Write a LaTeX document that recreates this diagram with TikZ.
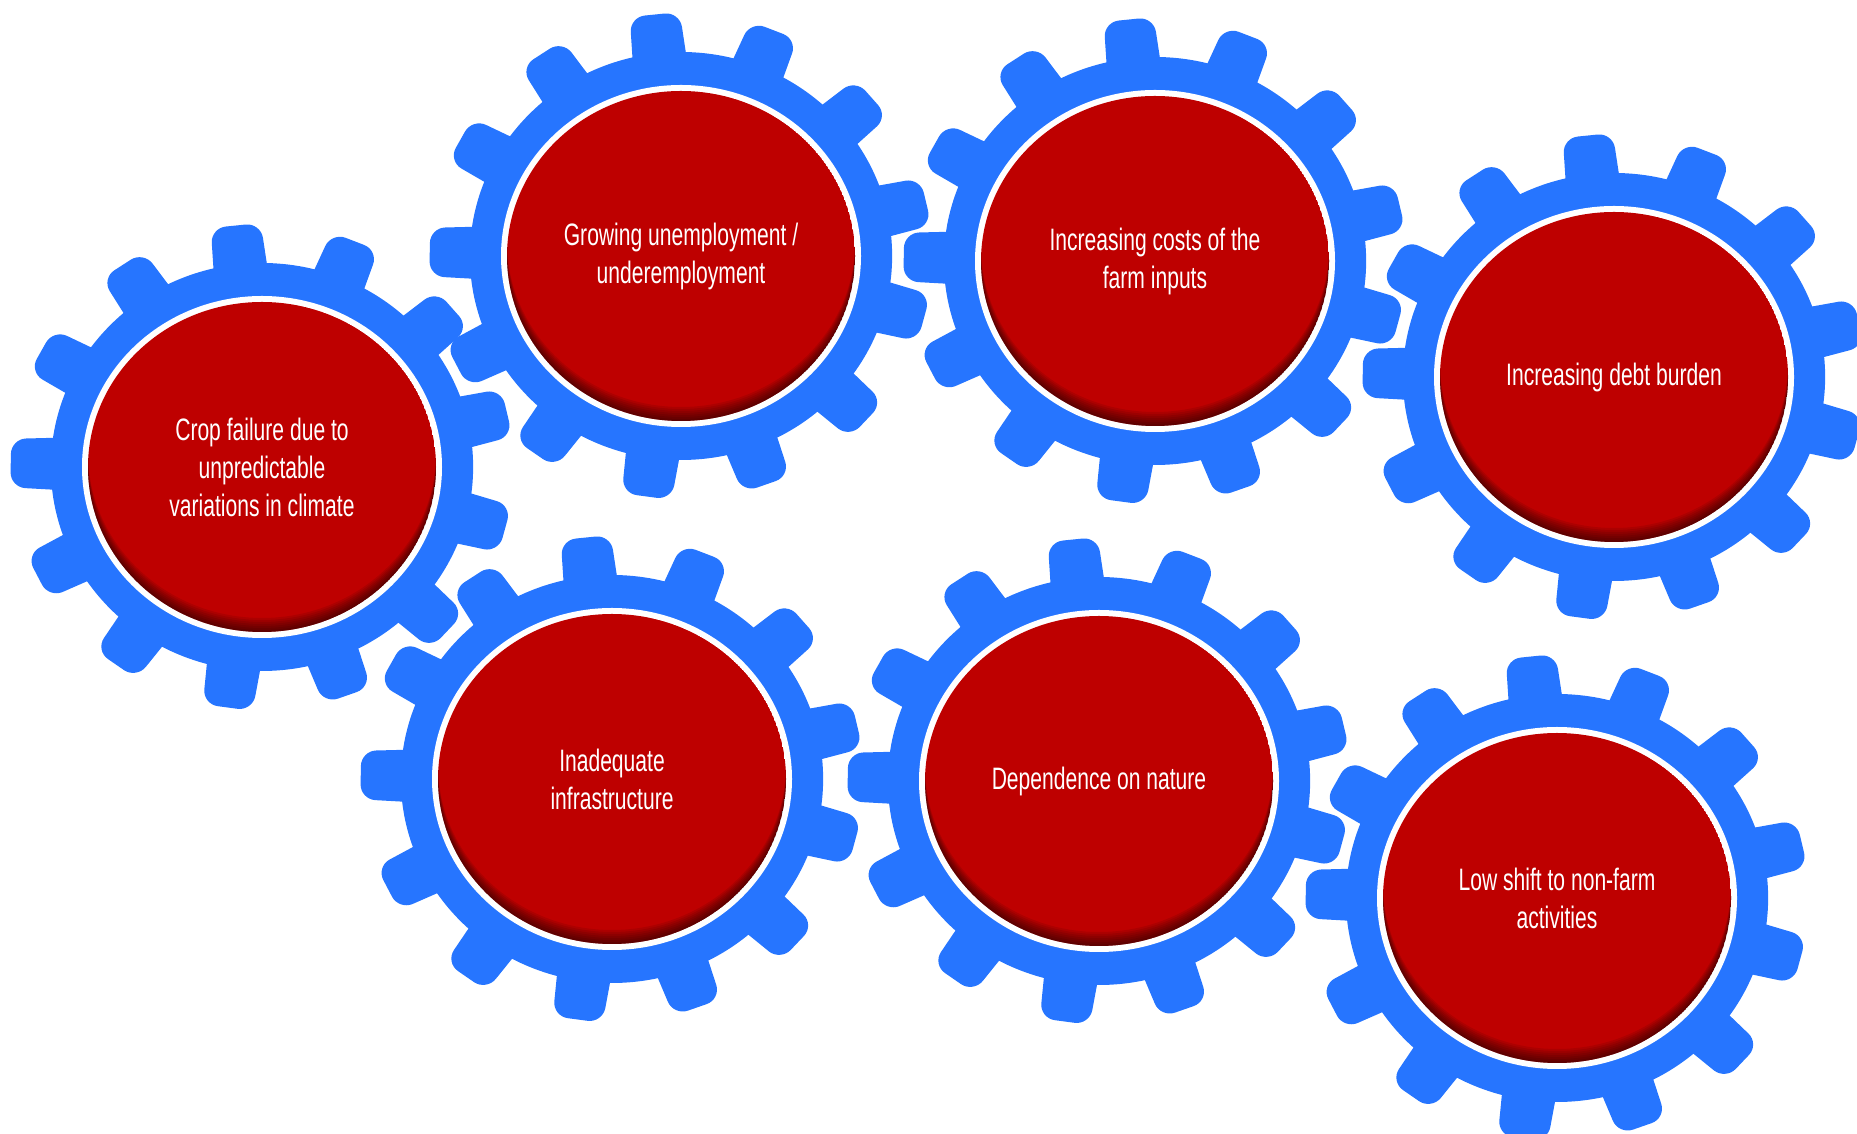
\documentclass[tikz,border=0pt]{standalone}
\usepackage{fontspec}
\setmainfont{Liberation Sans}[FakeStretch=0.68]
\usepackage{tikz}
\definecolor{cogblue}{RGB}{38,117,255}
\definecolor{hubred}{RGB}{190,0,0}
\tikzstyle{cogtext}=[text=white, align=center, font=\fontsize{31}{38}\selectfont]
\tikzstyle{tooth}=[fill=cogblue, rounded corners=15pt]
% one cog with its red hub, #1 = centre
\newcommand{\cog}[1]{%
  \begin{scope}[shift={(#1)}, xscale=1.035]
    \fill[cogblue] (0,0) circle[radius=204];
    \foreach \k in {0,...,12}
      \fill[tooth] ({96+\k*360/13-8.3}:185) -- ({96+\k*360/13-5.7}:244)
        -- ({96+\k*360/13+5.7}:244) -- ({96+\k*360/13+8.3}:185) -- cycle;
  \end{scope}
  \fill[white] (#1) ellipse[x radius=180, y radius=171];
  \begin{scope}
    \clip (#1) ellipse[x radius=174, y radius=165];
    \fill[hubred] (#1) ellipse[x radius=174, y radius=165];
    \foreach \d in {2,4,...,14}
      \fill[black, opacity=0.09, even odd rule] ([shift={(-200,-200)}]#1) rectangle ([shift={(200,200)}]#1)
        ([yshift=\d]#1) ellipse[x radius=174, y radius=165];
  \end{scope}
}

\begin{document}
\begin{tikzpicture}[x=1pt, y=1pt]
    \useasboundingbox (0,0) rectangle (1857,1134);
    \clip (0,0) rectangle (1857,1134);
    \coordinate (g1) at (262,667);
    \coordinate (g2) at (681,878);
    \coordinate (g3) at (1155,873);
    \coordinate (g4) at (1614,757);
    \coordinate (g5) at (612,355);
    \coordinate (g6) at (1099,353);
    \coordinate (g7) at (1557,236);
    \foreach \g in {g1,g2,g3,g4,g5,g6,g7} {\cog{\g}}
    \node[cogtext] (crop) at (g1) {Crop failure due to\\unpredictable\\variations in climate};
    \node[cogtext] (jobs) at (g2) {Growing unemployment /\\underemployment};
    \node[cogtext] (costs) at (g3) {Increasing costs of the\\farm inputs};
    \node[cogtext] (debt) at (g4) {Increasing debt burden};
    \node[cogtext] (infra) at (g5) {Inadequate\\infrastructure};
    \node[cogtext] (nature) at (g6) {Dependence on nature};
    \node[cogtext] (shift) at (g7) {Low shift to non-farm\\activities};
\end{tikzpicture}
\end{document}
